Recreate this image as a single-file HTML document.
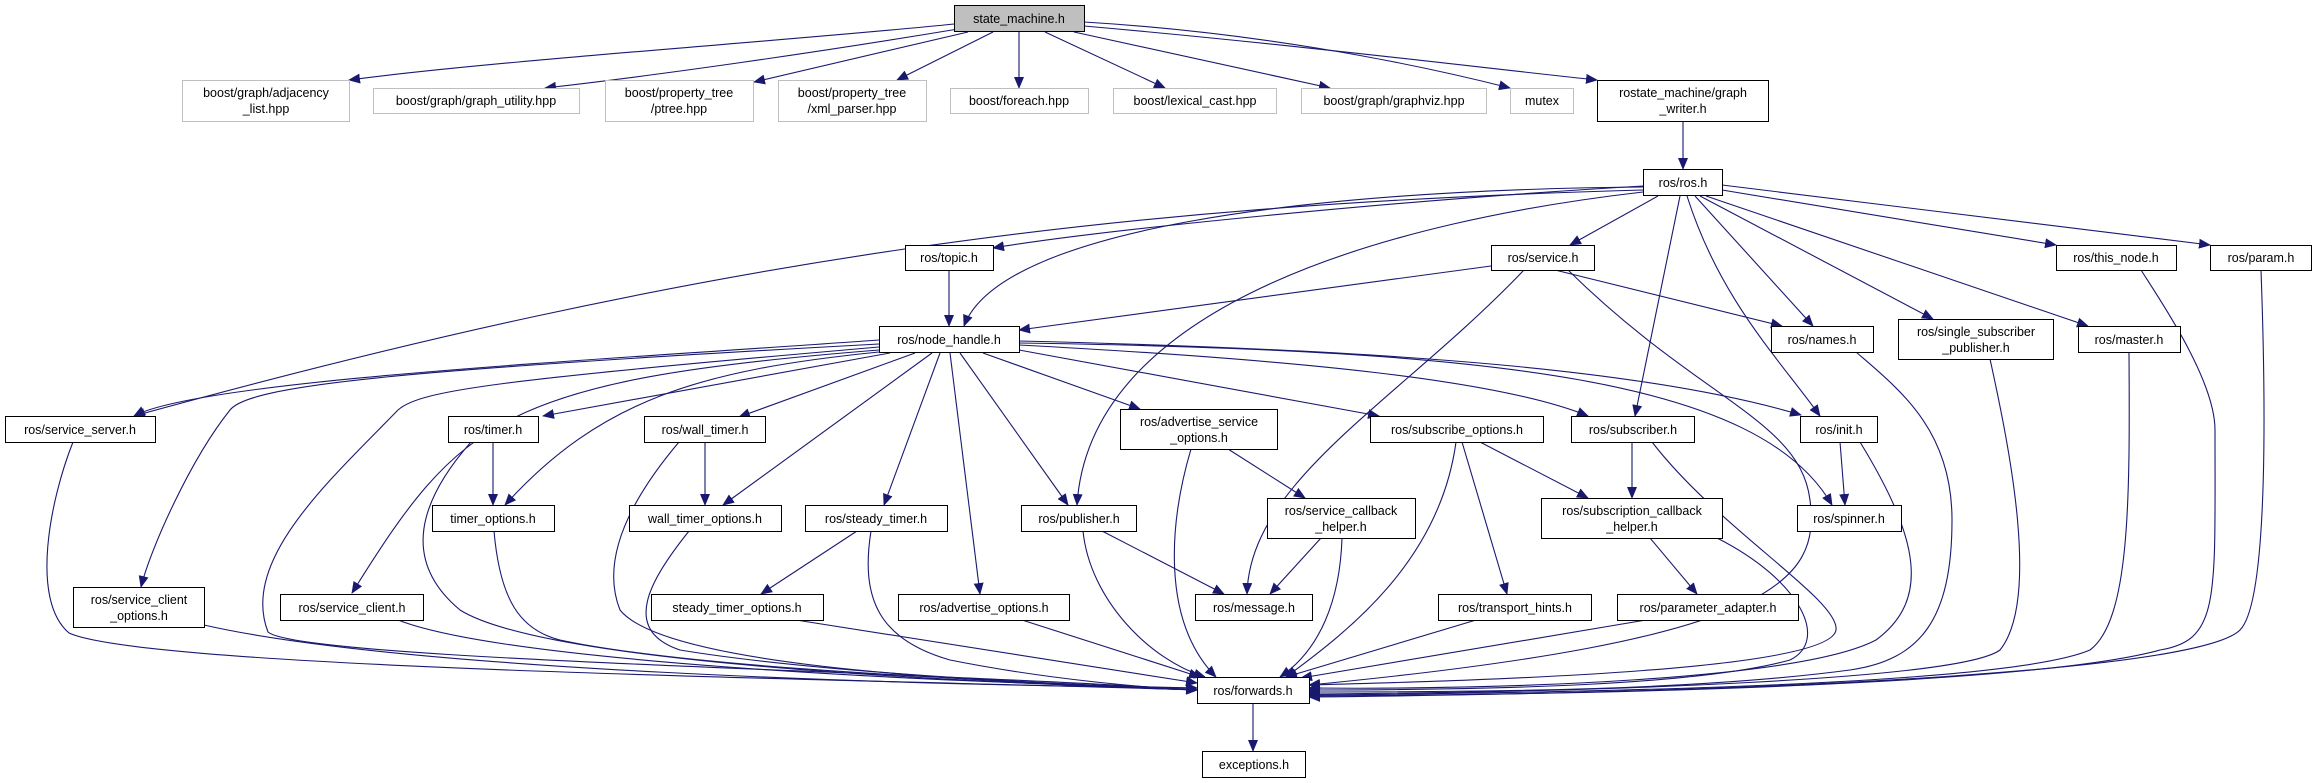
<!DOCTYPE html>
<html><head><meta charset="utf-8"><style>
html,body{margin:0;padding:0;background:#fff;}
svg{display:block;}
text{font-family:"Liberation Sans",sans-serif;font-size:12.5px;fill:#000;}
</style></head><body>
<svg width="2315" height="783" viewBox="0 0 2315 783" xmlns="http://www.w3.org/2000/svg">
<defs>
<marker id="a" markerUnits="userSpaceOnUse" markerWidth="12" markerHeight="10" refX="11" refY="5" orient="auto">
<path d="M0,0 L12,5 L0,10 Z" fill="#191970"/>
</marker>
</defs>
<g fill="none" stroke="#191970" stroke-width="1.1" marker-end="url(#a)">
<!-- state_machine -->
<path d="M954,24 C800,40 500,60 349,80"/>
<path d="M958,29 C820,52 660,75 545,88"/>
<path d="M968,32 L754,82"/>
<path d="M993,32 L897,80"/>
<path d="M1019,32 L1019,88"/>
<path d="M1045,32 L1165,88"/>
<path d="M1074,32 L1330,88"/>
<path d="M1084,22 C1250,32 1400,60 1510,88"/>
<path d="M1084,26 C1300,45 1500,70 1597,80"/>
<path d="M1683,121 L1683,169"/>
<!-- ros.h -->
<path d="M1643,186 C1400,200 1100,230 993,248"/>
<path d="M1643,187 C1300,190 1000,230 964,326"/>
<path d="M1643,190 C1100,205 700,260 134,416"/>
<path d="M1658,196 L1570,245"/>
<path d="M1643,192 C1400,220 1090,300 1077,505"/>
<path d="M1680,196 L1635,416"/>
<path d="M1687,196 C1720,300 1780,360 1820,416"/>
<path d="M1695,196 L1813,326"/>
<path d="M1700,196 L1933,319"/>
<path d="M1706,196 L2088,326"/>
<path d="M1722,190 L2056,245"/>
<path d="M1722,185 L2210,245"/>
<!-- service.h -->
<path d="M1491,266 L1019,330"/>
<path d="M1524,270 C1400,400 1250,480 1247,594"/>
<path d="M1555,270 L1782,326"/>
<path d="M1568,270 C1700,400 1800,420 1810,500 C1820,580 1780,640 1309,685"/>
<!-- topic -->
<path d="M949,270 L949,326"/>
<!-- node_handle -->
<path d="M879,340 C600,360 200,380 134,416"/>
<path d="M879,344 C400,370 250,385 230,410 C190,460 150,550 141,587"/>
<path d="M879,347 C500,380 420,390 398,410 C330,480 240,560 268,632 C300,660 900,670 1197,690"/>
<path d="M879,350 C500,380 460,420 352,593"/>
<path d="M879,352 C700,370 600,400 505,505"/>
<path d="M890,353 L543,416"/>
<path d="M915,353 L739,417"/>
<path d="M932,353 L723,505"/>
<path d="M940,353 L884,505"/>
<path d="M950,353 L980,594"/>
<path d="M960,353 L1068,505"/>
<path d="M983,353 L1140,409"/>
<path d="M1019,350 L1379,416"/>
<path d="M1019,345 C1300,360 1500,380 1588,416"/>
<path d="M1019,341 C1400,350 1650,370 1801,415"/>
<path d="M1019,343 C1500,350 1760,380 1832,505"/>
<!-- level 3 -> forwards etc -->
<path d="M73,442 C50,500 30,600 69,633 C150,670 900,680 1197,690"/>
<path d="M493,442 L493,505"/>
<path d="M471,442 C420,500 400,560 460,610 C540,660 900,680 1197,690"/>
<path d="M705,442 L705,505"/>
<path d="M679,442 C630,500 600,560 620,610 C660,660 900,680 1197,690"/>
<path d="M494,531 C500,600 520,630 560,640 C700,670 1000,680 1197,690"/>
<path d="M689,531 C650,580 620,630 680,650 C800,670 1000,682 1197,690"/>
<path d="M857,531 L761,594"/>
<path d="M871,531 C860,600 880,640 950,660 C1050,680 1150,688 1197,690"/>
<path d="M1102,531 L1224,594"/>
<path d="M1083,531 C1090,600 1150,660 1205,677"/>
<path d="M1228,449 L1305,498"/>
<path d="M1191,449 C1170,520 1160,620 1216,677"/>
<path d="M1321,538 L1270,594"/>
<path d="M1342,538 C1340,600 1320,650 1280,677"/>
<path d="M1480,442 L1588,498"/>
<path d="M1462,442 L1507,594"/>
<path d="M1456,442 C1440,560 1350,630 1286,677"/>
<path d="M1632,442 L1632,498"/>
<path d="M1652,442 C1720,530 1840,600 1836,630 C1830,670 1500,680 1309,685"/>
<path d="M1840,442 L1845,505"/>
<path d="M1860,442 C1920,540 1930,600 1876,640 C1800,680 1500,690 1309,688"/>
<path d="M1650,538 L1697,594"/>
<path d="M1717,538 C1800,580 1830,640 1790,660 C1700,685 1500,690 1309,690"/>
<path d="M1856,352 C1900,390 1952,430 1952,520 C1952,620 1920,660 1850,670 C1700,690 1500,692 1309,692"/>
<path d="M1990,359 C2010,450 2040,600 2000,650 C1960,680 1600,692 1309,694"/>
<path d="M2129,352 C2130,500 2130,620 2090,650 C2020,680 1700,692 1309,695"/>
<path d="M2141,270 C2160,300 2215,380 2215,430 C2215,600 2220,640 2160,650 C2050,680 1700,694 1309,696"/>
<path d="M2261,270 C2265,380 2270,600 2240,630 C2200,670 1800,692 1309,697"/>
<path d="M1476,620 L1286,677"/>
<path d="M1646,620 L1301,678"/>
<path d="M204,625 C400,670 900,685 1197,688"/>
<path d="M398,620 C500,660 900,682 1197,688"/>
<path d="M796,620 L1197,683"/>
<path d="M1022,620 L1200,677"/>
<path d="M1253,703 L1253,751"/>
</g>
<g stroke-width="1">
<!-- grey external nodes -->
<g fill="#fff" stroke="#bfbfbf">
<rect x="182.5" y="80.5" width="167" height="41"/>
<rect x="373.5" y="88.5" width="206" height="25"/>
<rect x="605.5" y="80.5" width="148" height="41"/>
<rect x="778.5" y="80.5" width="148" height="41"/>
<rect x="950.5" y="88.5" width="138" height="25"/>
<rect x="1113.5" y="88.5" width="163" height="25"/>
<rect x="1301.5" y="88.5" width="185" height="25"/>
<rect x="1510.5" y="88.5" width="63" height="25"/>
</g>
<rect x="954.5" y="5.5" width="130" height="26" fill="#bfbfbf" stroke="#000"/>
<g fill="#fff" stroke="#000">
<rect x="1597.5" y="80.5" width="171" height="41"/>
<rect x="1643.5" y="169.5" width="79" height="26"/>
<rect x="905.5" y="245.5" width="88" height="25"/>
<rect x="1491.5" y="245.5" width="103" height="25"/>
<rect x="2056.5" y="245.5" width="120" height="25"/>
<rect x="2210.5" y="245.5" width="101" height="25"/>
<rect x="879.5" y="326.5" width="140" height="26"/>
<rect x="1771.5" y="326.5" width="102" height="26"/>
<rect x="1898.5" y="319.5" width="155" height="40"/>
<rect x="2078.5" y="326.5" width="102" height="26"/>
<rect x="5.5" y="416.5" width="150" height="26"/>
<rect x="448.5" y="416.5" width="90" height="26"/>
<rect x="644.5" y="416.5" width="121" height="26"/>
<rect x="1120.5" y="409.5" width="157" height="40"/>
<rect x="1370.5" y="416.5" width="173" height="26"/>
<rect x="1571.5" y="416.5" width="123" height="26"/>
<rect x="1800.5" y="416.5" width="77" height="26"/>
<rect x="432.5" y="505.5" width="122" height="26"/>
<rect x="629.5" y="505.5" width="152" height="26"/>
<rect x="805.5" y="505.5" width="142" height="26"/>
<rect x="1021.5" y="505.5" width="115" height="26"/>
<rect x="1267.5" y="498.5" width="148" height="40"/>
<rect x="1541.5" y="498.5" width="181" height="40"/>
<rect x="1797.5" y="505.5" width="104" height="26"/>
<rect x="73.5" y="587.5" width="131" height="40"/>
<rect x="280.5" y="594.5" width="143" height="26"/>
<rect x="651.5" y="594.5" width="172" height="26"/>
<rect x="898.5" y="594.5" width="171" height="26"/>
<rect x="1195.5" y="594.5" width="117" height="26"/>
<rect x="1438.5" y="594.5" width="153" height="26"/>
<rect x="1617.5" y="594.5" width="181" height="26"/>
<rect x="1197.5" y="677.5" width="112" height="26"/>
<rect x="1202.5" y="751.5" width="103" height="26"/>
</g>
</g>
<g text-anchor="middle">
<text x="1019" y="23">state_machine.h</text>
<text x="266" y="97">boost/graph/adjacency</text><text x="266" y="113">_list.hpp</text>
<text x="476" y="105">boost/graph/graph_utility.hpp</text>
<text x="679" y="97">boost/property_tree</text><text x="679" y="113">/ptree.hpp</text>
<text x="852" y="97">boost/property_tree</text><text x="852" y="113">/xml_parser.hpp</text>
<text x="1019" y="105">boost/foreach.hpp</text>
<text x="1195" y="105">boost/lexical_cast.hpp</text>
<text x="1394" y="105">boost/graph/graphviz.hpp</text>
<text x="1542" y="105">mutex</text>
<text x="1683" y="97">rostate_machine/graph</text><text x="1683" y="113">_writer.h</text>
<text x="1683" y="187">ros/ros.h</text>
<text x="949" y="262">ros/topic.h</text>
<text x="1543" y="262">ros/service.h</text>
<text x="2116" y="262">ros/this_node.h</text>
<text x="2261" y="262">ros/param.h</text>
<text x="949" y="344">ros/node_handle.h</text>
<text x="1822" y="344">ros/names.h</text>
<text x="1976" y="336">ros/single_subscriber</text><text x="1976" y="352">_publisher.h</text>
<text x="2129" y="344">ros/master.h</text>
<text x="80" y="434">ros/service_server.h</text>
<text x="493" y="434">ros/timer.h</text>
<text x="705" y="434">ros/wall_timer.h</text>
<text x="1199" y="426">ros/advertise_service</text><text x="1199" y="442">_options.h</text>
<text x="1457" y="434">ros/subscribe_options.h</text>
<text x="1633" y="434">ros/subscriber.h</text>
<text x="1839" y="434">ros/init.h</text>
<text x="493" y="523">timer_options.h</text>
<text x="705" y="523">wall_timer_options.h</text>
<text x="876" y="523">ros/steady_timer.h</text>
<text x="1079" y="523">ros/publisher.h</text>
<text x="1341" y="515">ros/service_callback</text><text x="1341" y="531">_helper.h</text>
<text x="1632" y="515">ros/subscription_callback</text><text x="1632" y="531">_helper.h</text>
<text x="1849" y="523">ros/spinner.h</text>
<text x="139" y="604">ros/service_client</text><text x="139" y="620">_options.h</text>
<text x="352" y="612">ros/service_client.h</text>
<text x="737" y="612">steady_timer_options.h</text>
<text x="984" y="612">ros/advertise_options.h</text>
<text x="1254" y="612">ros/message.h</text>
<text x="1515" y="612">ros/transport_hints.h</text>
<text x="1708" y="612">ros/parameter_adapter.h</text>
<text x="1253" y="695">ros/forwards.h</text>
<text x="1254" y="769">exceptions.h</text>
</g>
</svg>
</body></html>
